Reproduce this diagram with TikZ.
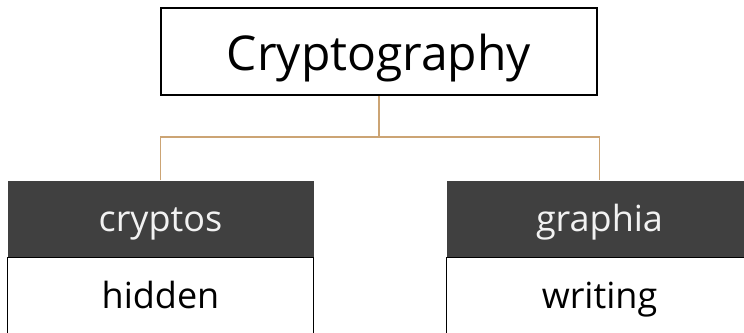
\documentclass[tikz,border=0pt]{standalone}
\usepackage{fontspec}
\setmainfont{Open Sans}
\usepackage{tikz}
\usetikzlibrary{positioning}
\definecolor{headgrey}{RGB}{64,64,64}
\definecolor{linktan}{RGB}{204,164,116}
\newcommand{\atbase}[2]{\raisebox{#1}[0pt][0pt]{#2}}
\tikzset{
    rootbox/.style={draw=black, line width=1.6pt, minimum width=436pt, minimum height=87pt, inner sep=0pt, font=\fontsize{48}{48}\selectfont},
    headbox/.style={fill=headgrey, text=white!95!black, minimum width=306pt, minimum height=76pt, inner sep=0pt, font=\fontsize{36}{36}\selectfont},
    bodybox/.style={draw=black, line width=1.6pt, minimum width=306pt, minimum height=96pt, inner sep=0pt, font=\fontsize{36}{36}\selectfont},
    link/.style={linktan, line width=1.8pt}
}

\begin{document}
\begin{tikzpicture}[x=1pt, y=-1pt]
        \useasboundingbox (0,0) rectangle (744,332);
        \clip (0,0) rectangle (744,332);
        \node[rootbox] (root) at (379,51.5) {\atbase{-18.5pt}{Cryptography}};
        % bodies first, headers drawn over them
        \node[bodybox] (hidden) at (160.5,305.5) {\atbase{-2.5pt}{hidden}};
        \node[bodybox] (writing) at (599.5,305.5) {\atbase{-2.5pt}{writing}};
        \node[headbox, above=0pt of hidden] (cryptos) {\atbase{-12.5pt}{cryptos}};
        \node[headbox, above=0pt of writing] (graphia) {\atbase{-12.5pt}{graphia}};
        \coordinate (split) at (379,137);
        \draw[link] (root.south) -- (split);
        \draw[link] (cryptos.north) |- (split) -| (graphia.north);
    \end{tikzpicture}
\end{document}
